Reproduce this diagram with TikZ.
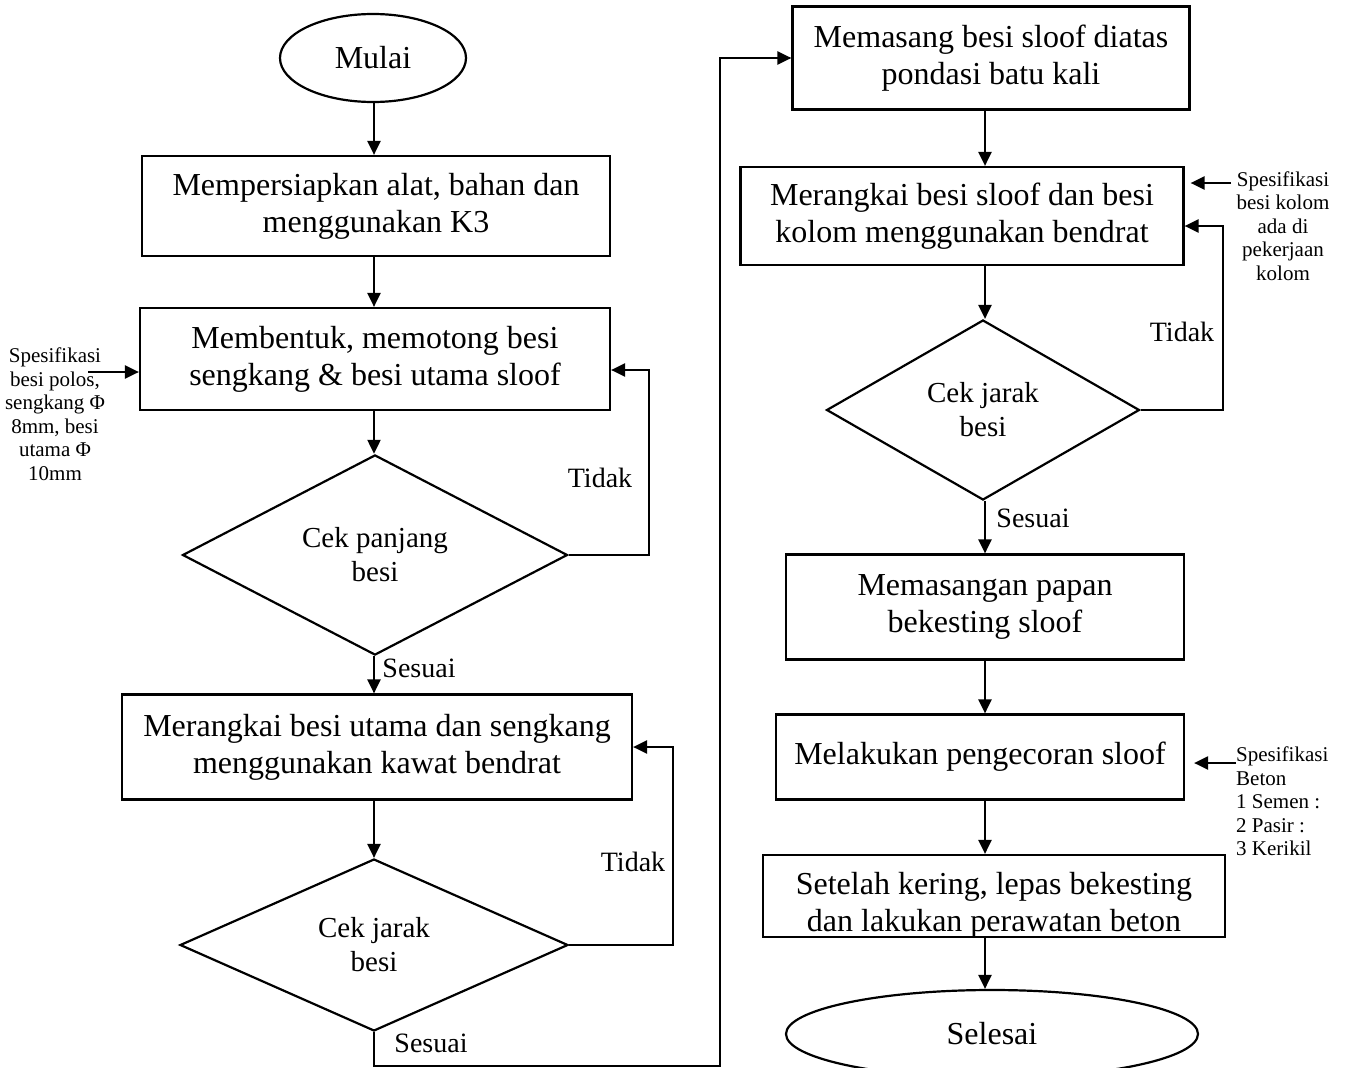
\documentclass[tikz,border=0pt]{standalone}
\usepackage{fontspec}
\setmainfont{Liberation Serif}
\usetikzlibrary{shapes.geometric,arrows.meta}
\begin{document}
\begin{tikzpicture}[x=1pt,y=-1pt,
  every node/.style={font=\fontsize{32}{37}\selectfont, inner sep=0pt},
  procbox/.style={draw, line width=2.2pt, rectangle, align=center},
  decision/.style={draw, line width=2.2pt, diamond, align=center,
    font=\fontsize{29}{34}\selectfont},
  terminal/.style={draw, line width=2.2pt, ellipse},
  flow/.style={line width=2.2pt, -{Triangle[length=14pt,width=13pt]}},
  note/.style={font=\fontsize{21}{23.5}\selectfont, align=center},
  answer/.style={font=\fontsize{28}{32}\selectfont}]
\useasboundingbox (0,0) rectangle (1347,1068);

% ---------- left column ----------
\node[terminal, minimum width=186, minimum height=88] (mulai) at (373,58) {Mulai};
\node[procbox, minimum width=468, minimum height=100] (b1) at (376,206)
  {Mempersiapkan alat, bahan dan\\menggunakan K3};
\node[procbox, minimum width=470, minimum height=102] (b2) at (375,359)
  {Membentuk, memotong besi\\sengkang \& besi utama sloof};
\node[decision, minimum width=385, minimum height=173] (d1) at (375,555)
  {Cek panjang\\besi};
\node[procbox, minimum width=510, minimum height=105] (b3) at (377,747)
  {Merangkai besi utama dan sengkang\\menggunakan kawat bendrat};
\node[decision, minimum width=388, minimum height=172] (d2) at (374,945)
  {Cek jarak\\besi};

% ---------- right column ----------
\node[procbox, minimum width=397, minimum height=103] (b4) at (991,58)
  {Memasang besi sloof diatas\\pondasi batu kali};
\node[procbox, minimum width=443, minimum height=98] (b5) at (962,216)
  {Merangkai besi sloof dan besi\\kolom menggunakan bendrat};
\node[decision, minimum width=313, minimum height=180] (d3) at (983,410)
  {Cek jarak\\besi};
\node[procbox, minimum width=398, minimum height=105] (b6) at (985,607)
  {Memasangan papan\\bekesting sloof};
\node[procbox, minimum width=408, minimum height=85] (b7) at (980,757)
  {Melakukan pengecoran sloof};
\node[procbox, minimum width=462, minimum height=82] (b8) at (994,896) {};
\begin{scope}
  \clip (b8.south west) rectangle (b8.north east);
  \node[align=center] (b8t) at (994,905)
    {Setelah kering, lepas bekesting\\dan lakukan perawatan beton};
\end{scope}
\node[terminal, minimum width=412, minimum height=88] (selesai) at (992,1034) {Selesai};

% ---------- notes ----------
\node[note] (n1) at (55,414)
  {Spesifikasi\\besi polos,\\sengkang Φ\\8mm, besi\\utama Φ\\10mm};
\node[note] (n2) at (1283,226)
  {Spesifikasi\\besi kolom\\ada di\\pekerjaan\\kolom};
\node[note, align=left, anchor=north west] (n3) at (1236,747)
  {Spesifikasi\\Beton\\1 Semen :\\2 Pasir :\\3 Kerikil};
\coordinate (n1a) at (88,372);
\coordinate (n2a) at (1231,183);
\coordinate (n3a) at (1236,763);

% ---------- main flow ----------
\coordinate (lc) at (374,0);
\coordinate (rc) at (985,0);
\draw[flow] (lc |- mulai.south) -- (lc |- b1.north);
\draw[flow] (lc |- b1.south) -- (lc |- b2.north);
\draw[flow] (lc |- b2.south) -- (lc |- d1.north);
\draw[flow] (lc |- d1.south) -- (lc |- b3.north);
\draw[flow] (lc |- b3.south) -- (lc |- d2.north);
\draw[flow] (d2.south) -- ++(0,34) -- ++(346,0) |- (b4.west);

\draw[flow] (rc |- b4.south) -- (rc |- b5.north);
\draw[flow] (rc |- b5.south) -- (rc |- d3.north);
\draw[flow] (rc |- d3.south) -- (rc |- b6.north);
\draw[flow] (rc |- b6.south) -- (rc |- b7.north);
\draw[flow] (rc |- b7.south) -- (rc |- b8.north);
\draw[flow] (rc |- b8.south) -- (rc |- selesai.north);

% ---------- loops back ----------
\draw[flow] (d1.east) -- ++(80,0) |- ([yshift=-11pt]b2.east);
\draw[flow] (d2.east) -- ++(104,0) |- (b3.east);
\draw[flow] (d3.east) -- ++(82,0) |- ([yshift=-10pt]b5.east);

% ---------- note arrows ----------
\draw[flow] (n1a) -- (n1a -| b2.west);
\draw[flow] (n2a) -- ([xshift=6pt]n2a -| b5.east);
\draw[flow] (n3a) -- ([xshift=9pt]n3a -| b7.east);

% ---------- answers ----------
\node[answer] (t1) at (600,478) {Tidak};
\node[answer] (s1) at (419,668) {Sesuai};
\node[answer] (t2) at (633,862) {Tidak};
\node[answer] (s2) at (431,1043) {Sesuai};
\node[answer] (t3) at (1182,332) {Tidak};
\node[answer] (s3) at (1033,518) {Sesuai};
\end{tikzpicture}
\end{document}
